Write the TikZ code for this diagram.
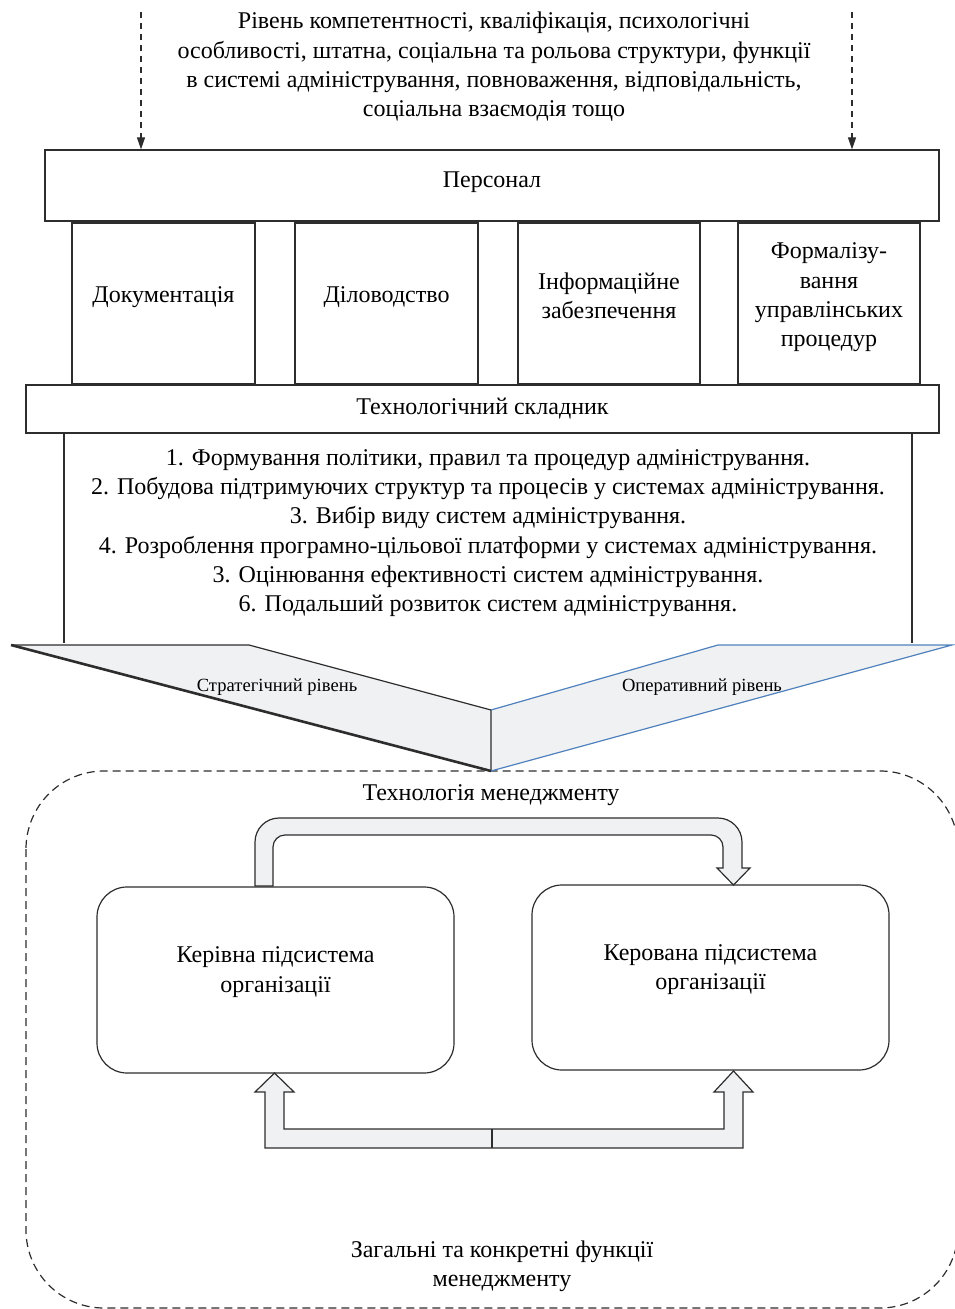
\documentclass[tikz,border=0pt]{standalone}
\usepackage{fontspec}
\setmainfont{Liberation Serif}
\usetikzlibrary{arrows.meta}
\definecolor{boxfill}{RGB}{240,241,243}
\definecolor{edgeblue}{RGB}{79,129,189}
\definecolor{ink}{RGB}{45,45,45}
\begin{document}
\begin{tikzpicture}[x=0.5pt,y=-0.5pt,
  every node/.style={font=\fontsize{12}{14.65}\selectfont, inner sep=0pt, align=center},
  box/.style={draw=ink, line width=0.6pt, fill=white},
  rbox/.style={draw=ink, line width=0.6pt, fill=white, rounded corners=15pt},
  smalltext/.style={font=\fontsize{9.3}{11}\selectfont},
  dasharrow/.style={draw=ink, line width=0.6pt, dash pattern=on 3pt off 2.5pt, -{Triangle[length=6pt,width=4pt]}},
  blockarrow/.style={draw=ink, line width=0.6pt, fill=boxfill, line join=miter},
  region/.style={draw=ink, line width=0.6pt, dash pattern=on 4pt off 2.5pt, rounded corners=39pt}
]
\useasboundingbox (0,0) rectangle (954,1309);

% outer dashed region
\draw[region] (26,771) rectangle (958,1308);

% top text
\node (factors) at (494,67) {Рівень компетентності, кваліфікація, психологічні\\особливості, штатна, соціальна та рольова структури, функції\\в системі адміністрування, повноваження, відповідальність,\\соціальна взаємодія тощо};

% Personnel box
\node[box, minimum width=447pt, minimum height=35.5pt] (pers) at (492,185.5) {};
\node (perst) at ([yshift=1.5pt]pers.center) {Персонал};

% dashed arrows
\coordinate (dl) at (141,12);
\coordinate (dr) at (852,12);
\draw[dasharrow] (dl) -- (dl |- pers.north);
\draw[dasharrow] (dr) -- (dr |- pers.north);

% four boxes
\node[box, minimum width=91.5pt, minimum height=80.5pt] (doc) at (163.5,303.5) {};
\node[box, minimum width=91.5pt, minimum height=80.5pt] (dil) at (386.5,303.5) {};
\node[box, minimum width=91pt, minimum height=80.5pt] (inf) at (609,303.5) {};
\node[box, minimum width=91pt, minimum height=80.5pt] (form) at (829,303.5) {};
\node (doct) at ([yshift=3pt]doc.center) {Документація};
\node (dilt) at ([yshift=3pt]dil.center) {Діловодство};
\node (inft) at ([yshift=4pt]inf.center) {Інформаційне\\забезпечення};
\node (formt) at ([yshift=3pt]form.center) {Формалізу-\\вання\\управлінських\\процедур};

% technological component
\node[box, minimum width=456.5pt, minimum height=24pt] (tech) at (482.5,409) {Технологічний складник};

% list box sides
\draw[draw=ink, line width=0.6pt] (64,433) -- (64,643) (912,433) -- (912,643);
\node (list) at (488,533) {1. Формування політики, правил та процедур адміністрування.\\2. Побудова підтримуючих структур та процесів у системах адміністрування.\\3. Вибір виду систем адміністрування.\\4. Розроблення програмно-цільової платформи у системах адміністрування.\\3. Оцінювання ефективності систем адміністрування.\\6. Подальший розвиток систем адміністрування.};

% funnel
\fill[boxfill] (11,645) -- (249,645) -- (491,710) -- (491,771) -- cycle;
\fill[boxfill] (718,645) -- (952,645) -- (491,771) -- (491,710) -- cycle;
\draw[ink, line width=0.6pt, line join=miter] (11,645) -- (249,645) -- (491,710) -- (491,771);
\draw[ink, line width=1.3pt] (11,645) -- (491,771);
\draw[edgeblue, line width=0.6pt, line join=miter] (491,710) -- (718,645) -- (952,645) -- (491,771);
\node[smalltext] (strat) at (277,687) {Стратегічний рівень};
\node[smalltext] (oper) at (702,687) {Оперативний рівень};

% management technology
\node (tman) at (491,795) {Технологія менеджменту};

% subsystems
\node[rbox, minimum width=178.5pt, minimum height=93pt] (ker) at (275.5,980) {};
\node[rbox, minimum width=178.5pt, minimum height=92.5pt] (kerov) at (710.5,977.5) {};
\node (kert) at ([yshift=4pt]ker.center) {Керівна підсистема\\організації};
\node (kerovt) at ([yshift=4pt]kerov.center) {Керована підсистема\\організації};

% top block arrow
\draw[blockarrow] (255,886) -- (255,842) .. controls (255,828.8) and (265.8,818) .. (279,818) -- (718,818) .. controls (731.2,818) and (742,828.8) .. (742,842) -- (742,868) -- (750,868) -- (733.5,885) -- (717,868) -- (723,868) -- (723,847) .. controls (723,840.4) and (717.6,835) .. (711,835) -- (285,835) .. controls (278.4,835) and (273,840.4) .. (273,847) -- (273,886) -- cycle;

% bottom block arrow
\draw[blockarrow] (265,1092) -- (265,1148) -- (743,1148) -- (743,1092) -- (753,1092) -- (733.5,1071) -- (714,1092) -- (724,1092) -- (724,1129) -- (284,1129) -- (284,1092) -- (294,1092) -- (274.5,1073) -- (255,1092) -- cycle;
\draw[ink, line width=0.6pt] (492,1129) -- (492,1148);

% bottom text
\node (func) at (502,1266) {Загальні та конкретні функції\\менеджменту};
\end{tikzpicture}
\end{document}
